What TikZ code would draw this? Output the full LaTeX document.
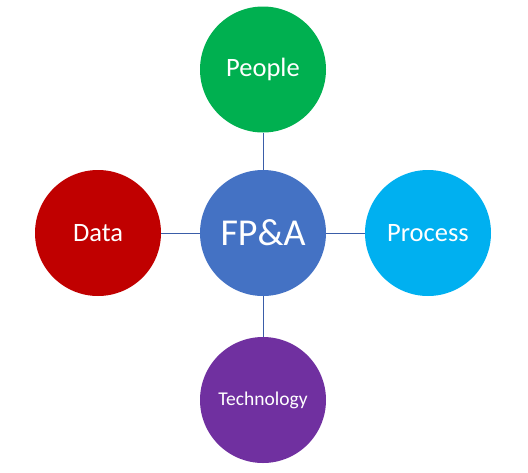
\documentclass[tikz,border=0pt]{standalone}
\usepackage{fontspec}
\setmainfont{Carlito}
\definecolor{cgreen}{HTML}{00B050}
\definecolor{cblue}{HTML}{4472C4}
\definecolor{ccyan}{HTML}{00B0F0}
\definecolor{cred}{HTML}{C00000}
\definecolor{cpurple}{HTML}{7030A0}
\definecolor{cline}{HTML}{3A5DA8}
\begin{document}
\begin{tikzpicture}[x=1pt,y=-1pt,
  bubble/.style={circle,minimum size=126pt,inner sep=0pt,text=white,font=\fontsize{26.5}{30}\selectfont},
  link/.style={draw=cline,line width=0.8pt}]
\useasboundingbox (0,0) rectangle (528,472);
\node[bubble,fill=cblue,font=\fontsize{38}{44}\selectfont] (c) at (263,233) {FP\&A};
\node[bubble,fill=cgreen] (p) at (263,69.5) {People};
\node[bubble,fill=cred] (d) at (98,233) {Data};
\node[bubble,fill=ccyan] (pr) at (428,233) {Process};
\node[bubble,fill=cpurple,font=\fontsize{19.5}{23}\selectfont] (t) at (263,400) {Technology};
\draw[link] (c) -- (p);
\draw[link] (c) -- (d);
\draw[link] (c) -- (pr);
\draw[link] (c) -- (t);
\end{tikzpicture}
\end{document}
